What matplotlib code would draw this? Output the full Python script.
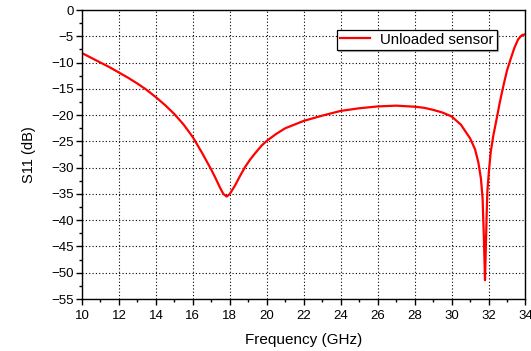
import matplotlib
matplotlib.use("Agg")
import matplotlib.pyplot as plt
from matplotlib.ticker import MultipleLocator

freq = [10.0, 10.5, 11.0, 11.5, 12.0, 12.5, 13.0, 13.5, 14.0, 14.5, 15.0, 15.5,
        16.0, 16.5, 17.0, 17.2, 17.47, 17.65, 17.83, 18.0, 18.28, 18.55, 18.82,
        19.09, 19.36, 19.72, 20.0, 20.5, 21.0, 22.0, 23.0, 24.0, 25.0, 26.0,
        27.0, 28.0, 28.5, 29.0, 29.5, 30.0, 30.5, 31.0, 31.27, 31.45, 31.59,
        31.68, 31.75, 31.81, 31.9, 31.94, 32.02, 32.12, 32.26, 32.44, 32.62,
        32.8, 33.0, 33.2, 33.4, 33.6, 33.8, 34.0]
s11 = [-8.2, -9.1, -10.0, -10.9, -11.9, -12.9, -14.0, -15.2, -16.6, -18.1, -19.8, -21.8,
       -24.2, -27.2, -30.4, -31.8, -33.8, -35.0, -35.5, -35.0, -33.4, -31.6, -29.9,
       -28.5, -27.3, -25.8, -24.9, -23.6, -22.5, -21.1, -20.1, -19.2, -18.7, -18.35,
       -18.2, -18.4, -18.6, -19.0, -19.5, -20.25, -21.8, -24.4, -26.5, -29.0, -32.1,
       -35.9, -43.5, -51.4, -38.8, -34.4, -30.7, -27.0, -23.9, -20.7, -17.4,
       -14.5, -11.5, -9.3, -7.2, -5.6, -4.8, -4.6]

plt.rcParams['font.family'] = ['Liberation Sans', 'DejaVu Sans']

fig = plt.figure(figsize=(5.31, 3.51), dpi=100)
ax = fig.add_axes([0.1544, 0.148, 0.8352, 0.8235])

ax.plot(freq, s11, color='#ff0000', lw=1.6, label='Unloaded sensor')

ax.set_xlim(10, 34)
ax.set_ylim(-55, 0)
ax.xaxis.set_major_locator(MultipleLocator(2))
ax.xaxis.set_minor_locator(MultipleLocator(1))
ax.yaxis.set_major_locator(MultipleLocator(5))
ax.yaxis.set_minor_locator(MultipleLocator(2.5))
ax.tick_params(which='major', direction='out', length=4, width=1, labelsize=9.5, pad=2)
ax.tick_params(axis='x', which='major', pad=4)
ax.tick_params(which='minor', direction='out', length=2.5, width=1)
ax.grid(True, which='major', color='black', linestyle=(0, (1, 2)), lw=0.8)

for s in ax.spines.values():
    s.set_linewidth(1.0)

ax.set_xlabel('Frequency (GHz)', fontsize=11, labelpad=8)
ax.set_ylabel('S11 (dB)', fontsize=10.5, labelpad=11)

leg = ax.legend(loc='upper left', bbox_to_anchor=(0.557, 0.958), fontsize=10.8,
                frameon=True, fancybox=False, edgecolor='black', framealpha=1,
                handlelength=2.0, borderpad=0.2, handletextpad=0.7,
                shadow={'ox': 1.2, 'oy': -1.2, 'shade': 0.5})
leg.get_frame().set_linewidth(0.9)

fig.savefig('out.png', dpi=100)
